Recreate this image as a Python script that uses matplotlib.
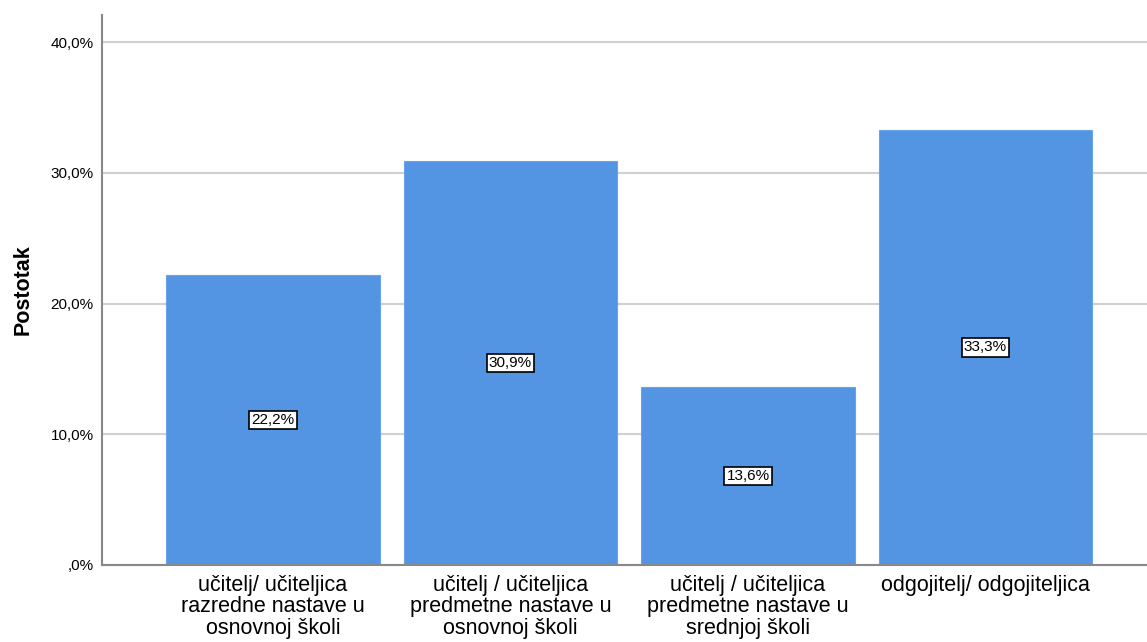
import matplotlib
matplotlib.use("Agg")
import matplotlib.pyplot as plt

categories = [
    "učitelj/ učiteljica\nrazredne nastave u\nosnovnoj školi",
    "učitelj / učiteljica\npredmetne nastave u\nosnovnoj školi",
    "učitelj / učiteljica\npredmetne nastave u\nsrednjoj školi",
    "odgojitelj/ odgojiteljica",
]
values = [22.2, 30.9, 13.6, 33.3]
yticks = [0, 10, 20, 30, 40]
ytick_labels = [",0%", "10,0%", "20,0%", "30,0%", "40,0%"]

plt.rcParams['font.family'] = ['Liberation Sans', 'DejaVu Sans']

fig = plt.figure(figsize=(11.47, 6.42), dpi=100)
ax = fig.add_axes([0.0889, 0.12, 0.9111, 0.8566])

x = list(range(len(categories)))
ax.bar(x, values, width=0.9, color="#5394E3", edgecolor="#6aa3ea", linewidth=0.8, zorder=2)

for xi, v in zip(x, values):
    ax.text(xi, v / 2, f"{v:.1f}%".replace(".", ","), ha="center", va="center", fontsize=11,
            bbox=dict(boxstyle="square,pad=0.15", facecolor="white", edgecolor="black", linewidth=1.2),
            zorder=3)

ax.set_ylim(0, 42.08)
ax.set_xlim(-0.72, 3.68)
ax.set_yticks(yticks)
ax.set_yticklabels(ytick_labels, fontsize=11)
ax.set_xticks(x)
ax.set_xticklabels(categories, fontsize=15.5, linespacing=1.03, va="top")
ax.tick_params(axis="both", length=0)
ax.tick_params(axis="x", pad=7)
ax.tick_params(axis="y", pad=6)

ax.yaxis.grid(True, color="#d0d0d0", linewidth=1.5, zorder=0)
ax.set_axisbelow(True)
for s in ["top", "right"]:
    ax.spines[s].set_visible(False)
for s in ["left", "bottom"]:
    ax.spines[s].set_color("#888888")
    ax.spines[s].set_linewidth(1.5)

ax.set_ylabel("Postotak", fontsize=15.5, fontweight="bold", labelpad=12)

fig.savefig("out.png", dpi=100)
